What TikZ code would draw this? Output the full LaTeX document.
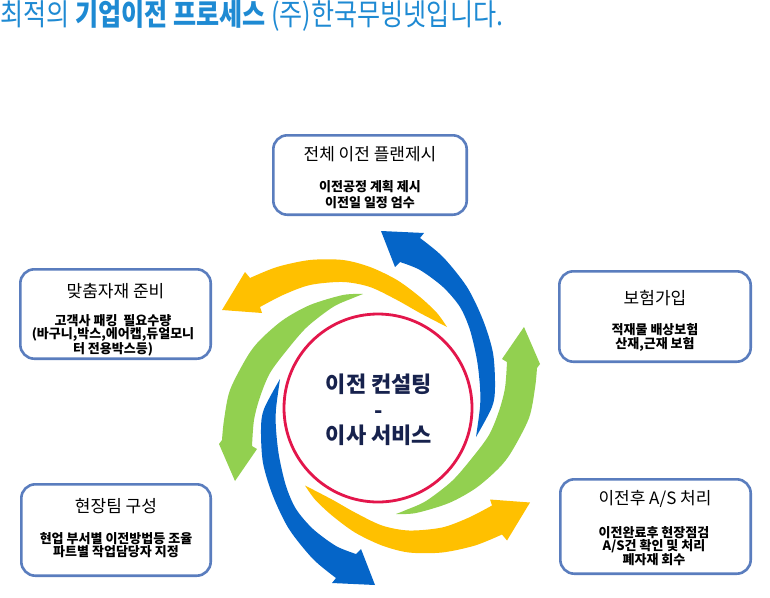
\documentclass[tikz,border=0pt]{standalone}
\usepackage{fontspec}
\setmainfont{Noto Sans CJK KR}
\usepackage{graphicx}
\definecolor{titleblue}{HTML}{1E8AD3}
\definecolor{boxline}{HTML}{5A7DBE}
\definecolor{arblue}{HTML}{0565C8}
\definecolor{aryellow}{HTML}{FFC000}
\definecolor{argreen}{HTML}{92D050}
\definecolor{ringred}{HTML}{E3164B}
\definecolor{navy}{HTML}{17224D}
\newcommand{\arrowBlue}{plot[smooth] coordinates {(476,437) (492,407) (495,387) (493,353) (483,320) (467,287) (443,257) (420,238)}
 -- (424,233) -- (381,231) -- (395,267) -- (400,262)
 -- plot[smooth] coordinates {(400,262) (420,270) (443,287) (460,307) (470,330) (477,360) (480,387) (480,407) (476,437)} -- cycle}
\newcommand{\arrowYellow}{plot[smooth] coordinates {(447,327) (437,313) (420,297) (397,280) (370,267) (343,260) (310,260) (277,267) (250,278)}
 -- (245,272) -- (222,310) -- (262,313) -- (260,307)
 -- plot[smooth] coordinates {(260,307) (283,295) (310,285) (343,282) (370,287) (397,300) (420,313) (447,327)} -- cycle}
\newcommand{\arrowGreen}{plot[smooth] coordinates {(363,294) (343,295) (310,305) (283,320) (260,340) (247,357) (230,390) (224,420) (222,440)}
 -- (219,444) -- (235,481) -- (257,449) -- (252,446)
 -- plot[smooth] coordinates {(252,446) (254,420) (260,397) (270,373) (287,350) (307,327) (333,307) (353,298) (363,294)} -- cycle}
\begin{document}
\begin{tikzpicture}[x=1pt,y=-1pt,
  procbox/.style={draw=boxline, line width=2.6pt, rounded corners=14pt, fill=white, inner sep=0pt},
  boxtitle/.style={font=\fontsize{17}{19}\selectfont, inner sep=0pt, text=black},
  boxbody/.style={font=\fontsize{13}{#1}\selectfont\bfseries, align=center, inner sep=0pt, text=black},
  boxbody/.default=13.5
]
\useasboundingbox[fill=white] (0,0) rectangle (770,597);

% title
\node[anchor=base west, inner sep=0pt, text=titleblue] (title) at (0,26)
  {\resizebox{503pt}{\height}{\fontsize{30}{30}\selectfont 최적의 \textbf{기업이전 프로세스} (주)한국무빙넷입니다.}};

% spiral arrows
\fill[arblue] \arrowBlue;
\fill[aryellow] \arrowYellow;
\fill[argreen] \arrowGreen;
\begin{scope}[rotate around={180:(378,408)}]
  \fill[arblue] \arrowBlue;
\end{scope}
\begin{scope}[shift={(-4,-3.5)}, rotate around={180:(378,408)}]
  \fill[aryellow] \arrowYellow;
\end{scope}
\begin{scope}[shift={(3,-8)}, rotate around={180:(378,408)}]
  \fill[argreen] \arrowGreen;
\end{scope}

% centre ring
\node[circle, draw=ringred, fill=white, line width=2.8pt, minimum size=188pt, inner sep=0pt] (ring) at (378,408) {};
\node[font=\fontsize{22}{25.5}\selectfont\bfseries, text=navy, align=center, inner sep=0pt] (ctext) at (379,410)
  {이전 컨설팅\\-\\이사 서비스};

% boxes
\node[procbox, minimum width=193.4pt, minimum height=79.4pt] (b1) at (370,175) {};
\node[procbox, minimum width=190.4pt, minimum height=89.4pt] (b2) at (115.5,314) {};
\node[procbox, minimum width=191.4pt, minimum height=90.4pt] (b3) at (655,316.5) {};
\node[procbox, minimum width=189.4pt, minimum height=91.4pt] (b4) at (116,530) {};
\node[procbox, minimum width=190.4pt, minimum height=94.4pt] (b5) at (655.5,526.5) {};

\node[boxtitle] (t1) at (370,154) {전체 이전 플랜제시};
\node[boxbody=15.5] (d1) at (370,194.75) {이전공정 계획 제시\\이전일 일정 엄수};

\node[boxtitle] (t2) at (115.5,291) {맞춤자재 준비};
\node[boxbody=13] (d2) at (113,335) {고객사 패킹\ \ 필요수량\\(바구니,박스,에어캡,듀얼모니\\터 전용박스등)};

\node[boxtitle] (t3) at (655,298) {보험가입};
\node[boxbody=14] (d3) at (655,337) {적재물 배상보험\\산재,근재 보험};

\node[boxtitle] (t4) at (116,506.5) {현장팀 구성};
\node[boxbody=13] (d4) at (116,545.5) {현업 부서별 이전방법등 조율\\파트별 작업담당자 지정};

\node[boxtitle] (t5) at (655,499) {이전후 A/S 처리};
\node[boxbody=13.3] (d5) at (654,546) {이전완료후 현장점검\\A/S건 확인 및 처리\\폐자재 회수};
\end{tikzpicture}
\end{document}
